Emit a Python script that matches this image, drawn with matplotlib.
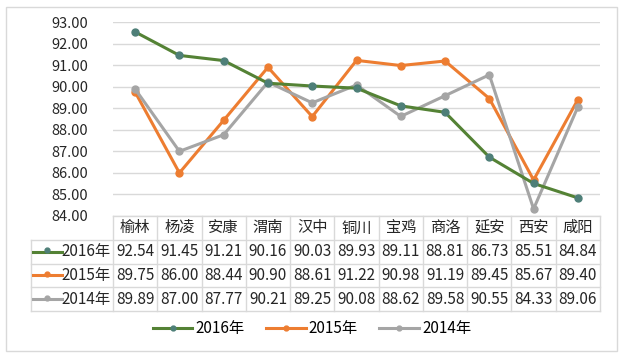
import numpy as np
import matplotlib
matplotlib.use("Agg")
import matplotlib.pyplot as plt
from matplotlib.lines import Line2D
from matplotlib.patches import Rectangle

plt.rcParams['font.family'] = ['Noto Sans CJK SC', 'DejaVu Sans']

cities = ["榆林", "杨凌", "安康", "渭南", "汉中", "铜川", "宝鸡", "商洛", "延安", "西安", "咸阳"]
years = ["2016年", "2015年", "2014年"]
v2016 = [92.54, 91.45, 91.21, 90.16, 90.03, 89.93, 89.11, 88.81, 86.73, 85.51, 84.84]
v2015 = [89.75, 86.00, 88.44, 90.90, 88.61, 91.22, 90.98, 91.19, 89.45, 85.67, 89.40]
v2014 = [89.89, 87.00, 87.77, 90.21, 89.25, 90.08, 88.62, 89.58, 90.55, 84.33, 89.06]
yticks = np.arange(84, 94, 1)

W, H = 621, 357
line_colors = ["#548235", "#ED7D31", "#A5A5A5"]
marker_colors = ["#4E7F78", "#ED7D31", "#A5A5A5"]
grid_c = "#D9D9D9"


def fbox(x0, y0, x1, y1):
    # pixel box (top-left origin) -> figure fraction rect
    return [x0 / W, 1 - y1 / H, (x1 - x0) / W, (y1 - y0) / H]


fig = plt.figure(figsize=(W / 100, H / 100), dpi=100)
fig.add_artist(Rectangle((6 / W, 1 - 351 / H), 611 / W, 344 / H, transform=fig.transFigure,
                         fill=False, edgecolor=grid_c, lw=1))

ax = fig.add_axes(fbox(113, 22, 600, 216))
x = np.arange(len(cities))
series = [v2016, v2015, v2014]
for vals, lc, mc, lab in zip(series, line_colors, marker_colors, years):
    ax.plot(x, vals, color=lc, lw=2.2, marker='o', ms=5, mfc=mc, mec=mc, label=lab,
            zorder=3 if lab != "2016年" else 4)
ax.set_xlim(-0.5, len(cities) - 0.5)
ax.set_ylim(84, 93)
ax.set_yticks(yticks)
ax.set_yticklabels(["%.2f" % t for t in yticks], fontsize=10.5, color="#262626")
ax.tick_params(axis='y', length=0, pad=18)
ax.set_xticks([])
ax.grid(axis='y', color=grid_c, lw=1)
ax.set_axisbelow(True)
for s in ax.spines.values():
    s.set_visible(False)

# data table below plot
tab = fig.add_axes(fbox(113, 216, 600, 311))
tab.set_xlim(-0.5, len(cities) - 0.5)
tab.set_ylim(4, 0)
tab.axis('off')
col_w = 487 / len(cities)
left_x = -0.5 - (113 - 31) / col_w
kw = dict(color=grid_c, lw=1, clip_on=False)
# horizontal lines
tab.plot([-0.5, len(cities) - 0.5], [0, 0], **kw)
for r in range(1, 5):
    tab.plot([left_x, len(cities) - 0.5], [r, r], **kw)
# vertical lines
tab.plot([left_x, left_x], [1, 4], **kw)
for c in range(len(cities) + 1):
    tab.plot([c - 0.5, c - 0.5], [0, 4], **kw)
txt = dict(ha='center', va='center', fontsize=11, color="#262626", clip_on=False)
for i, city in enumerate(cities):
    tab.text(i, 0.5, city, **txt)
for r, vals in enumerate(series):
    for i, v in enumerate(vals):
        tab.text(i, r + 1.5, "%.2f" % v, **txt)
    kx0 = left_x + 2 / col_w
    kx1 = left_x + 31 / col_w
    tab.add_line(Line2D([kx0, kx1], [r + 1.5, r + 1.5], color=line_colors[r], lw=2.2, clip_on=False))
    tab.plot([(kx0 + kx1) / 2], [r + 1.45], marker='o', ms=3.5, color=marker_colors[r], clip_on=False)
    tab.text(-0.5 - 2 / col_w, r + 1.5, years[r], ha='right', va='center', fontsize=11,
             color="#262626", clip_on=False)

handles, labels = ax.get_legend_handles_labels()
fig.legend(handles, labels, loc='center', bbox_to_anchor=(312 / W, 1 - 329 / H), ncol=3,
           frameon=False, fontsize=11, handlelength=2.6, handletextpad=0.2, columnspacing=1.4,
           markerscale=0.7)

fig.savefig("out.png", dpi=100)
